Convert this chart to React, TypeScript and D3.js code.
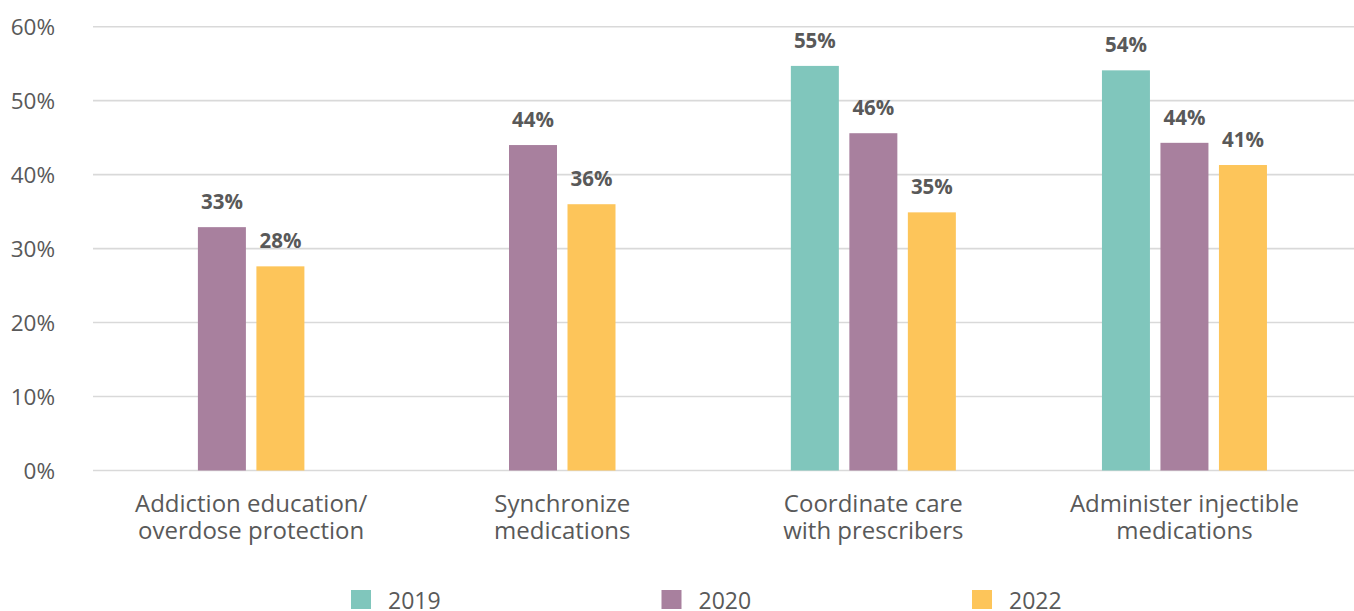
import React from "react";
import * as d3 from "d3";

const categories: string[][] = [
  ["Addiction education/", "overdose protection"],
  ["Synchronize", "medications"],
  ["Coordinate care", "with prescribers"],
  ["Administer injectible", "medications"],
];
const seriesNames = ["2019", "2020", "2022"];
const values2019: (number | null)[] = [null, null, 54.7, 54.1];
const values2020: (number | null)[] = [32.9, 44.0, 45.6, 44.3];
const values2022: (number | null)[] = [27.6, 36.0, 34.9, 41.3];
const seriesColors = ["#80C6BC", "#A8809E", "#FDC55A"];
const yTicks = [0, 10, 20, 30, 40, 50, 60];

const W = 1354;
const H = 611;
const TEXT = "#595959";
const FONT = "'Open Sans', sans-serif";

export default function App() {
  const seriesValues = [values2019, values2020, values2022];
  const y = d3.scaleLinear().domain([0, 60]).range([470.5, 26.7]);
  const x = d3
    .scaleBand<number>()
    .domain(categories.map((_, i) => i))
    .range([95.6, 1340])
    .paddingInner(0)
    .paddingOuter(0);
  const step = 58.5;
  const barW = 48;
  const legendX = d3.scalePoint<string>().domain(seriesNames).range([351, 972]);

  return (
    <svg
      width={W}
      height={H}
      style={{ position: "fixed", left: 0, top: 0, background: "#fff" }}
      fontFamily={FONT}
    >
      {yTicks.map((t) => (
        <g key={t}>
          <line x1={93} x2={W} y1={y(t)} y2={y(t)} stroke="#D9D9D9" strokeWidth={1.6} />
          <text x={55} y={y(t) + 8} textAnchor="end" fontSize={22.5} fill={TEXT}>
            {t}%
          </text>
        </g>
      ))}
      {categories.map((cat, ci) => {
        const present = seriesNames
          .map((_, si) => si)
          .filter((si) => seriesValues[si][ci] != null);
        const center = (x(ci) as number) + x.bandwidth() / 2;
        const inner = d3
          .scaleBand<number>()
          .domain(present)
          .range([center - (present.length * step) / 2, center + (present.length * step) / 2]);
        return (
          <g key={ci}>
            {present.map((si) => {
              const v = seriesValues[si][ci] as number;
              const bx = (inner(si) as number) + (inner.bandwidth() - barW) / 2;
              return (
                <g key={si}>
                  <rect x={bx} y={y(v)} width={barW} height={y(0) - y(v)} fill={seriesColors[si]} />
                  <text
                    x={bx + barW / 2}
                    y={y(v) - 18}
                    textAnchor="middle"
                    fontSize={20.5}
                    fontWeight={700}
                    fill={TEXT}
                  >
                    {Math.round(v)}%
                  </text>
                </g>
              );
            })}
            {cat.map((line, li) => (
              <text
                key={li}
                x={center}
                y={512 + li * 27}
                textAnchor="middle"
                fontSize={24}
                fill={TEXT}
              >
                {line}
              </text>
            ))}
          </g>
        );
      })}
      {seriesNames.map((s, si) => (
        <g key={s}>
          <rect x={legendX(s)} y={590} width={20} height={19} fill={seriesColors[si]} />
          <text x={(legendX(s) as number) + 37} y={608.5} fontSize={23} fill={TEXT}>
            {s}
          </text>
        </g>
      ))}
    </svg>
  );
}
